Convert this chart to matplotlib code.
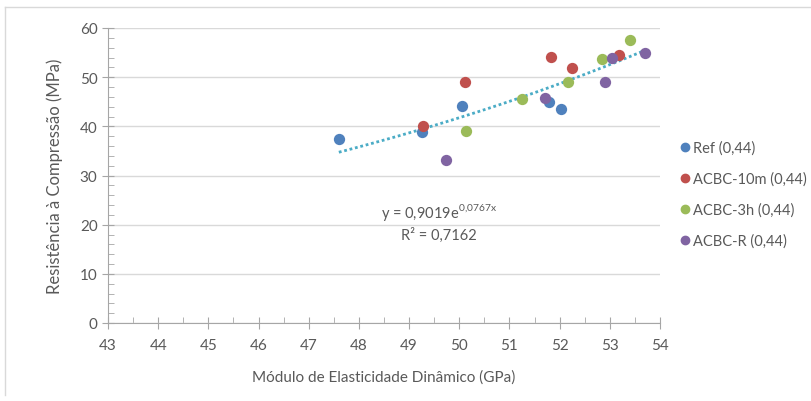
import matplotlib
matplotlib.use("Agg")
import matplotlib.pyplot as plt
import numpy as np
from matplotlib.ticker import MultipleLocator
from matplotlib.lines import Line2D

plt.rcParams["font.family"] = ["Lato", "DejaVu Sans"]

# data (GPa, MPa)
ref_x = [47.6, 49.25, 50.06, 51.78, 52.02]
ref_y = [37.5, 38.8, 44.1, 44.9, 43.5]
acbc10m_x = [49.27, 50.12, 51.83, 52.24, 53.19]
acbc10m_y = [40.0, 49.0, 54.2, 51.9, 54.6]
acbc3h_x = [50.14, 51.25, 52.16, 52.85, 53.40]
acbc3h_y = [39.0, 45.6, 49.0, 53.7, 57.6]
acbcr_x = [49.73, 51.71, 52.90, 53.04, 53.71]
acbcr_y = [33.1, 45.8, 49.0, 54.0, 54.9]

labels = ["Ref (0,44)", "ACBC-10m (0,44)", "ACBC-3h (0,44)", "ACBC-R (0,44)"]
colors = ["#4F81BD", "#C0504D", "#9BBB59", "#8064A2"]

# exponential trendline shown on the chart
trend_a = 0.9019
trend_b = 0.0767

TXT = "#595959"

fig = plt.figure(figsize=(8.12, 4.02), dpi=100)
ax = fig.add_axes([108 / 812, 1 - 324 / 402, 552 / 812, 295 / 402])

series = [(ref_x, ref_y), (acbc10m_x, acbc10m_y), (acbc3h_x, acbc3h_y), (acbcr_x, acbcr_y)]
for (xs, ys), c, lab in zip(series, colors, labels):
    ax.scatter(xs, ys, s=66, color=c, label=lab, zorder=3, linewidths=0)

all_x = np.concatenate([s[0] for s in series])
tx = np.linspace(all_x.min(), all_x.max(), 100)
ax.plot(tx, trend_a * np.exp(trend_b * tx), color="#4BACC6", lw=2, ls=(0, (1, 1)), zorder=2)

ax.text(49.6, 22.6, r"y = 0,9019e$^{\mathregular{0{,}0767x}}$", ha="center", va="center",
        fontsize=10.5, color=TXT)
ax.text(49.6, 18.0, "R² = 0,7162", ha="center", va="center", fontsize=10.5, color=TXT)

ax.set_xlim(43, 54)
ax.set_ylim(0, 60)
ax.xaxis.set_major_locator(MultipleLocator(1))
ax.xaxis.set_minor_locator(MultipleLocator(0.5))
ax.yaxis.set_major_locator(MultipleLocator(10))
ax.yaxis.set_minor_locator(MultipleLocator(2))
ax.grid(axis="y", color="#D9D9D9", lw=1)
ax.set_axisbelow(True)
for sp in ["top", "right"]:
    ax.spines[sp].set_visible(False)
for sp in ["left", "bottom"]:
    ax.spines[sp].set_color("#A6A6A6")
ax.tick_params(which="major", direction="inout", length=8, color="#A6A6A6",
               labelcolor=TXT, labelsize=11)
ax.tick_params(which="minor", direction="in", length=4, color="#A6A6A6")
ax.tick_params(axis="x", pad=7)

ax.set_xlabel("Módulo de Elasticidade Dinâmico (GPa)", fontsize=11, color=TXT, labelpad=12)
ax.set_ylabel("Resistência à Compressão (MPa)", fontsize=12, color=TXT, labelpad=12)

handles = [Line2D([], [], ls="", marker="o", markersize=6, color=c) for c in colors]
fig.legend(handles, labels, loc="upper left", bbox_to_anchor=(670 / 812, 1 - 134 / 402),
           frameon=False, fontsize=10.5, labelcolor=TXT, handletextpad=0.1,
           handlelength=1.0, labelspacing=1.15, borderpad=0)

# light frame around the chart area
fig.add_artist(Line2D([5 / 812, 5 / 812], [1 - 396 / 402, 1 - 8 / 402], color="#D9D9D9", lw=1))
fig.add_artist(Line2D([5 / 812, 1], [1 - 8 / 402, 1 - 8 / 402], color="#D9D9D9", lw=1))

fig.savefig("out.png", dpi=100)
